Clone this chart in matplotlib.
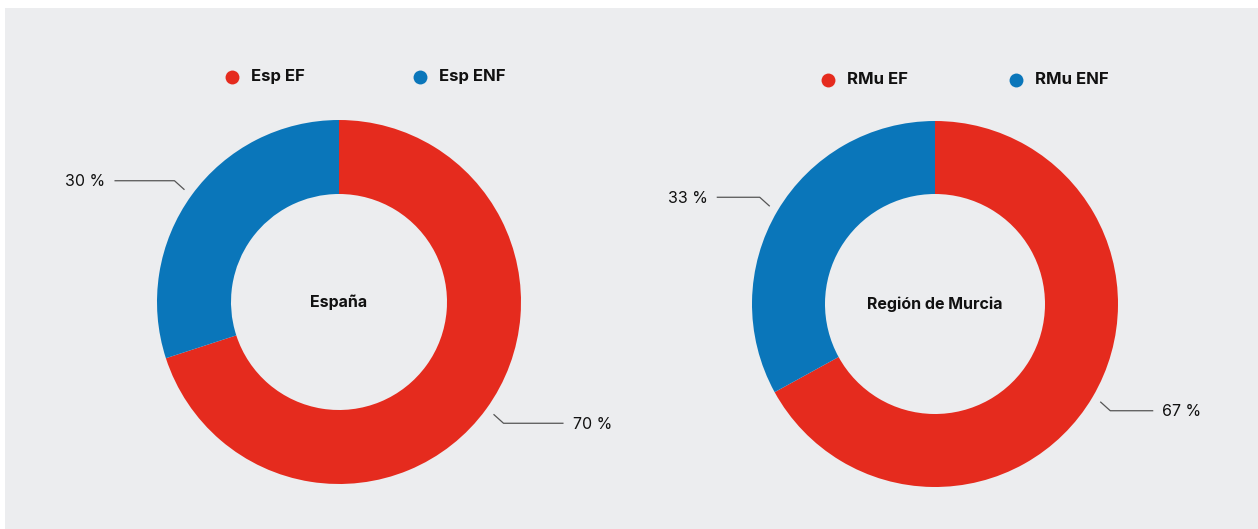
import numpy as np
import matplotlib.pyplot as plt
from matplotlib.patches import Rectangle

plt.rcParams['font.family'] = ['Inter', 'DejaVu Sans']

# share of each group, in percent
regions = ["España", "Región de Murcia"]
legend_labels = [["Esp EF", "Esp ENF"], ["RMu EF", "RMu ENF"]]
ef_share = [70, 67]
enf_share = [30, 33]

red = "#E52B1E"
blue = "#0A76BA"
bg = "#ECEDEF"

W, H = 1258, 529
fig = plt.figure(figsize=(W / 100, H / 100), dpi=100, facecolor="white")
fig.patches.append(Rectangle((5 / W, 0), 1, (H - 8) / H, transform=fig.transFigure,
                             facecolor=bg, edgecolor="none", zorder=-10))

ax = fig.add_axes([0, 0, 1, 1])
ax.set_zorder(1)

centers = [(339, H - 302), (935, H - 304)]
radii = [182, 183]
holes = [108, 110]
legend_x = [(232, 420), (828, 1016)]
legend_y = [H - 77, H - 80]
leader_len = [60, 43]

for i in range(2):
    cx, cy = centers[i]
    R = radii[i]
    vals = [ef_share[i], enf_share[i]]
    wedges, _ = ax.pie(vals, colors=[red, blue], startangle=90, counterclock=False,
                       center=(cx, cy), radius=R, frame=True,
                       wedgeprops=dict(width=R - holes[i], edgecolor="none", linewidth=0))
    ax.text(cx, cy, regions[i], ha="center", va="center", fontsize=11.5,
            fontweight="bold", color="#111111")

    # leader lines and percentage labels
    for w, v in zip(wedges, vals):
        mid = np.deg2rad((w.theta1 + w.theta2) / 2)
        x0 = cx + (R + 9) * np.cos(mid)
        y0 = cy + (R + 9) * np.sin(mid)
        sx = 1 if np.cos(mid) > 0 else -1
        sy = 1 if np.sin(mid) > 0 else -1
        x1, y1 = x0 + sx * 10, y0 + sy * 9
        x2 = x1 + sx * leader_len[i]
        ax.plot([x0, x1, x2], [y0, y1, y1], color="#555555", lw=0.9, solid_capstyle="butt")
        ax.text(x2 + sx * 9, y1 - 1, f"{v} %", ha="left" if sx > 0 else "right",
                va="center", fontsize=11.5, color="#111111")

    # legend
    for lx, lab, col in zip(legend_x[i], legend_labels[i], [red, blue]):
        ax.plot([lx], [legend_y[i]], "o", ms=10, color=col, mec="none")
        ax.text(lx + 19, legend_y[i], lab, ha="left", va="center", fontsize=12,
                fontweight="bold", color="#111111")

ax.set_xlim(0, W)
ax.set_ylim(0, H)
ax.set_aspect("equal")
ax.axis("off")
fig.savefig("out.png", dpi=100, facecolor="white")
